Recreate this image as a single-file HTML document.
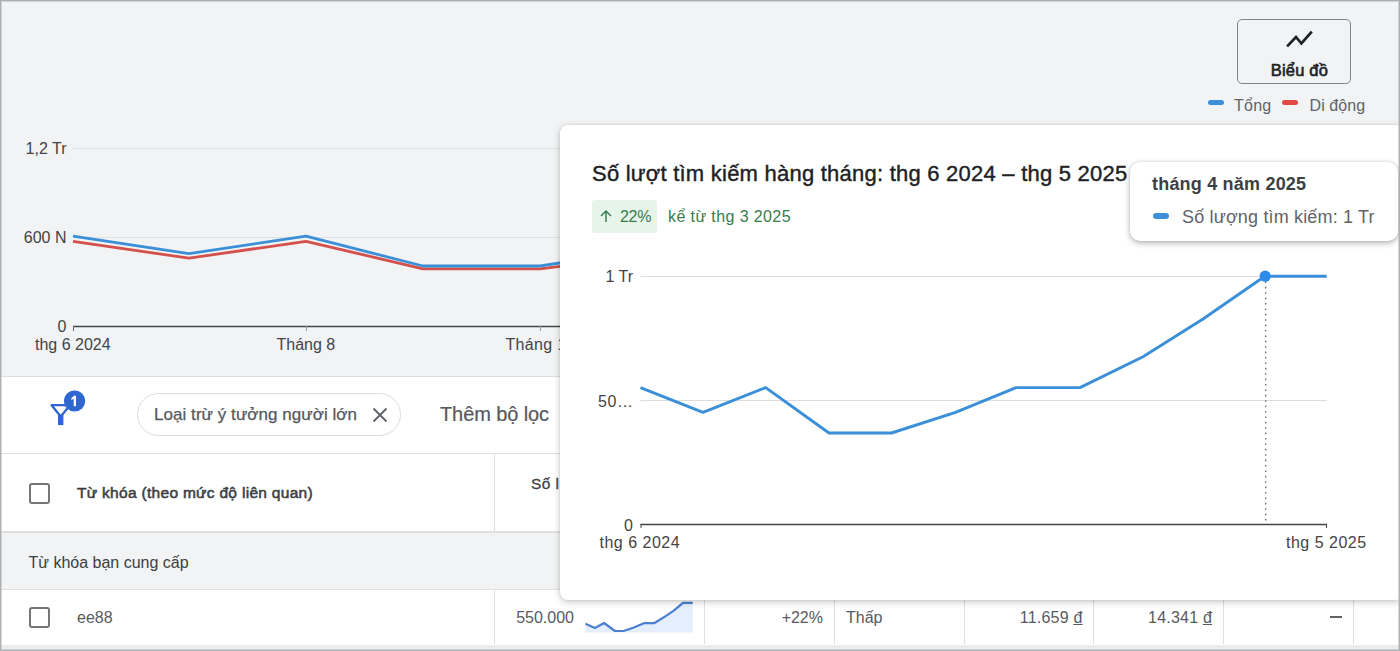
<!DOCTYPE html>
<html><head><meta charset="utf-8">
<style>
*{box-sizing:border-box;margin:0;padding:0}
html,body{width:1400px;height:651px;overflow:hidden;background:#f1f3f4;font-family:"Liberation Sans",sans-serif;}
#root{position:relative;width:1400px;height:651px;overflow:hidden;background:#f1f3f4}
.abs{position:absolute}
.t{position:absolute;white-space:nowrap;line-height:1}
</style></head><body>
<div id="root">

<!-- top chart area -->
<svg class="abs" style="left:0;top:0" width="1400" height="377" viewBox="0 0 1400 377">
  <line x1="73" y1="148.5" x2="1365" y2="148.5" stroke="#dfe1e3" stroke-width="1"/>
  <line x1="73" y1="237.5" x2="1365" y2="237.5" stroke="#dfe1e3" stroke-width="1"/>
  <line x1="73" y1="326.5" x2="1365" y2="326.5" stroke="#444" stroke-width="1.4"/>
  <line x1="73.5" y1="326" x2="73.5" y2="331" stroke="#666" stroke-width="1"/>
  <line x1="306.5" y1="326" x2="306.5" y2="331" stroke="#999" stroke-width="1"/>
  <line x1="540.5" y1="326" x2="540.5" y2="331" stroke="#999" stroke-width="1"/>
  <polyline fill="none" stroke="#d4504c" stroke-width="2.8" stroke-linejoin="round" points="73,241.3 189,258.2 306,241.3 423,268.8 540,268.8 657,254.4"/>
  <polyline fill="none" stroke="#3b8fd9" stroke-width="2.8" stroke-linejoin="round" points="73,236.2 189,253.6 306,236.2 423,266 540,266 657,248"/>
</svg>
<div class="t" style="right:1333.5px;top:141.3px;font-size:16px;color:#444">1,2 Tr</div>
<div class="t" style="right:1333.5px;top:230.3px;font-size:16px;color:#444">600 N</div>
<div class="t" style="right:1333.5px;top:319.3px;font-size:16px;color:#444">0</div>
<div class="t" style="left:35px;top:337px;font-size:16px;color:#444">thg 6 2024</div>
<div class="t" style="left:276.5px;top:337px;font-size:16px;color:#444">Tháng 8</div>
<div class="t" style="left:505.5px;top:337px;font-size:16px;letter-spacing:0.35px;color:#444">Tháng 10</div>

<!-- Bieu do button -->
<div class="abs" style="left:1236.6px;top:19px;width:114.6px;height:64.6px;border:1.5px solid #80868b;border-radius:5px;background:#f1f3f4"></div>
<svg class="abs" style="left:1284px;top:29px" width="32" height="22" viewBox="0 0 32 22"><polyline points="3.1,17.4 12,8 17.4,14.5 27.8,2.7" fill="none" stroke="#202124" stroke-width="2.7" stroke-linejoin="miter"/></svg>
<div class="t" style="left:1270.7px;top:62px;font-size:16.5px;letter-spacing:0.2px;color:#202124;-webkit-text-stroke:0.6px #202124">Biểu đồ</div>
<!-- legend -->
<div class="abs" style="left:1208px;top:100px;width:16px;height:5px;border-radius:3px;background:#3b8fd9"></div>
<div class="t" style="left:1234px;top:97.5px;font-size:16px;letter-spacing:0.25px;color:#5f6368">Tổng</div>
<div class="abs" style="left:1282px;top:100px;width:16px;height:5px;border-radius:3px;background:#e04a45"></div>
<div class="t" style="left:1309.5px;top:97.5px;font-size:16px;letter-spacing:0.1px;color:#5f6368">Di động</div>

<!-- filter bar -->
<div class="abs" style="left:0;top:376px;width:1400px;height:77.5px;background:#fff;border-top:1px solid #dadce0;border-bottom:1px solid #e0e0e0"></div>
<svg class="abs" style="left:46px;top:388px" width="44" height="44" viewBox="0 0 44 44">
  <path d="M5.6 17.2 H24 L14.7 28.4 Z" fill="none" stroke="#2f66d0" stroke-width="2.3" stroke-linejoin="round"/>
  <rect x="12" y="27" width="5.4" height="10.1" fill="#2f66d0"/>
  <circle cx="28.6" cy="13" r="10.6" fill="#2f66d0"/>
  <polygon points="25.4,10 28.1,7.8 30,7.8 30,18.2 27.7,18.2 27.7,10.7 25.4,12.1" fill="#fff"/>
</svg>
<div class="abs" style="left:137px;top:393px;width:264px;height:43px;border:1px solid #dadce0;border-radius:22px;background:#fff"></div>
<div class="t" style="left:154px;top:406px;font-size:17px;letter-spacing:0.05px;color:#55585d;-webkit-text-stroke:0.25px #55585d">Loại trừ ý tưởng người lớn</div>
<svg class="abs" style="left:371px;top:406px" width="18" height="18" viewBox="0 0 18 18"><path d="M2.5 2.5 L15.5 15.5 M15.5 2.5 L2.5 15.5" stroke="#5f6368" stroke-width="1.8" fill="none"/></svg>
<div class="t" style="left:440px;top:404.3px;font-size:20px;letter-spacing:-0.1px;color:#55585d;-webkit-text-stroke:0.2px #55585d">Thêm bộ lọc</div>

<!-- table header -->
<div class="abs" style="left:0;top:454px;width:1400px;height:79px;background:#fff;border-bottom:2px solid #e0e0e0"></div>
<div class="abs" style="left:28.5px;top:482.5px;width:21px;height:21px;border:2.5px solid #757575;border-radius:3px;background:#fff"></div>
<div class="t" style="left:77px;top:485px;font-size:15.5px;letter-spacing:0.3px;color:#3c4043;-webkit-text-stroke:0.55px #3c4043">Từ khóa (theo mức độ liên quan)</div>
<div class="abs" style="left:493.6px;top:454px;width:1px;height:78px;background:#e0e0e0"></div>
<div class="t" style="left:531px;top:476px;font-size:15.5px;letter-spacing:0.45px;color:#3c4043;-webkit-text-stroke:0.3px #3c4043">Số lượt</div>

<!-- group row -->
<div class="abs" style="left:0;top:534px;width:1400px;height:56px;background:#f1f3f4;border-bottom:1px solid #e0e0e0"></div>
<div class="t" style="left:28.5px;top:554.7px;font-size:16px;color:#3c4043">Từ khóa bạn cung cấp</div>

<!-- data row -->
<div class="abs" style="left:0;top:590px;width:1400px;height:54.5px;background:#fff"></div>
<div class="abs" style="left:28.5px;top:606.5px;width:21px;height:21px;border:2.5px solid #757575;border-radius:3px;background:#fff"></div>
<div class="t" style="left:77px;top:610px;font-size:16px;color:#575a5f">ee88</div>
<div class="abs" style="left:493.6px;top:590px;width:1px;height:54px;background:#e0e0e0"></div>
<div class="abs" style="left:704.3px;top:590px;width:1px;height:54px;background:#e0e0e0"></div>
<div class="abs" style="left:834.3px;top:590px;width:1px;height:54px;background:#e0e0e0"></div>
<div class="abs" style="left:963.8px;top:590px;width:1px;height:54px;background:#e0e0e0"></div>
<div class="abs" style="left:1093.2px;top:590px;width:1px;height:54px;background:#e0e0e0"></div>
<div class="abs" style="left:1223.4px;top:590px;width:1px;height:54px;background:#e0e0e0"></div>
<div class="abs" style="left:1353.2px;top:590px;width:1px;height:54px;background:#e0e0e0"></div>
<div class="t" style="right:826px;top:610px;font-size:16px;color:#575a5f">550.000</div>
<svg class="abs" style="left:570px;top:590px" width="140" height="54" viewBox="0 0 140 54">
  <polygon points="15.5,33.8 24.9,38.0 34.1,33.0 45.0,41.0 53.6,41.0 63.2,37.7 73.9,33.2 84.1,33.2 93.8,27.3 103.4,20.9 113.0,12.9 122.7,12.9 122.7,42.6 15.5,42.6" fill="#e4eefc"/>
  <polyline points="15.5,33.8 24.9,38.0 34.1,33.0 45.0,41.0 53.6,41.0 63.2,37.7 73.9,33.2 84.1,33.2 93.8,27.3 103.4,20.9 113.0,12.9 122.7,12.9" fill="none" stroke="#4a7fd1" stroke-width="2.2" stroke-linejoin="round"/>
</svg>
<div class="t" style="right:577px;top:610px;font-size:16px;color:#575a5f">+22%</div>
<div class="t" style="left:846px;top:610px;font-size:16px;color:#575a5f">Thấp</div>
<div class="t" style="right:317.5px;top:610px;font-size:16px;letter-spacing:0.2px;color:#575a5f">11.659 <u>đ</u></div>
<div class="t" style="right:188px;top:610px;font-size:16px;letter-spacing:0.2px;color:#575a5f">14.341 <u>đ</u></div>
<div class="abs" style="left:1330px;top:616.3px;width:11.5px;height:1.6px;background:#5f6368"></div>

<div class="abs" style="left:0;top:644.5px;width:1400px;height:7px;background:#e9ebec"></div>
<!-- popup -->
<div class="abs" style="left:559.5px;top:125px;width:840px;height:475.3px;background:#fff;border-radius:8px 0 4px 8px;box-shadow:0 2px 7px rgba(0,0,0,.22),0 0 2px rgba(0,0,0,.12)"></div>
<div class="t" style="left:592px;top:163px;font-size:22px;letter-spacing:0.235px;color:#202124;-webkit-text-stroke:0.4px #202124">Số lượt tìm kiếm hàng tháng: thg 6 2024 – thg 5 2025</div>
<div class="abs" style="left:592px;top:200px;width:65px;height:33px;background:#e6f4ea;border-radius:3px"></div>
<svg class="abs" style="left:598px;top:208px" width="16" height="16" viewBox="0 0 16 16"><path d="M8 14 V3 M3 8 L8 3 L13 8" fill="none" stroke="#357d4e" stroke-width="1.45"/></svg>
<div class="t" style="left:620px;top:209px;font-size:16px;letter-spacing:-0.3px;color:#357d4e">22%</div>
<div class="t" style="left:668px;top:209px;font-size:16px;letter-spacing:0.4px;color:#357d4e">kể từ thg 3 2025</div>

<svg class="abs" style="left:558px;top:125px" width="840" height="475" viewBox="558 125 840 475">
  <line x1="640.5" y1="276.5" x2="1327" y2="276.5" stroke="#dcdcdc" stroke-width="1"/>
  <line x1="640.5" y1="400.5" x2="1327" y2="400.5" stroke="#dcdcdc" stroke-width="1"/>
  <line x1="1265.7" y1="276" x2="1265.7" y2="524" stroke="#666" stroke-width="1.3" stroke-dasharray="1.6,3.8"/>
  <line x1="640.5" y1="524.5" x2="1327" y2="524.5" stroke="#444" stroke-width="1.4"/>
  <line x1="641" y1="524" x2="641" y2="528" stroke="#444" stroke-width="1"/>
  <line x1="1326.5" y1="524" x2="1326.5" y2="528" stroke="#444" stroke-width="1"/>
  <polyline fill="none" stroke="#3b8fd9" stroke-width="2.9" stroke-linejoin="round" points="640.5,387.6 703,412.4 765.7,387.6 829,433 891.5,433 955.5,412.4 1016,387.6 1080,387.6 1143,356.7 1203,319 1264.8,276.2 1326.7,276.2"/>
  <circle cx="1265.2" cy="276.2" r="5.6" fill="#2d8ae6"/>
</svg>
<div class="t" style="right:767px;top:269px;font-size:16px;color:#444">1 Tr</div>
<div class="t" style="right:766.5px;top:394px;font-size:16px;letter-spacing:0.6px;color:#444">50…</div>
<div class="t" style="right:767px;top:518px;font-size:16px;color:#444">0</div>
<div class="t" style="left:599.5px;top:535px;font-size:16px;letter-spacing:0.5px;color:#444">thg 6 2024</div>
<div class="t" style="left:1286px;top:535px;font-size:16px;letter-spacing:0.5px;color:#444">thg 5 2025</div>

<!-- tooltip -->
<div class="abs" style="left:1130px;top:162px;width:267.5px;height:79px;background:#fff;border-radius:10px;box-shadow:0 2px 6px rgba(0,0,0,.3),0 0 2px rgba(0,0,0,.12)"></div>
<div class="t" style="left:1152px;top:175px;font-size:18px;letter-spacing:0.2px;font-weight:bold;color:#3c4043">tháng 4 năm 2025</div>
<div class="abs" style="left:1153px;top:213px;width:16px;height:5.5px;border-radius:3px;background:#3b8fd9"></div>
<div class="t" style="left:1182px;top:208px;font-size:18px;letter-spacing:0.165px;color:#5f6368">Số lượng tìm kiếm: 1 Tr</div>

<!-- outer border -->
<div class="abs" style="left:0;top:0;width:1400px;height:651px;box-shadow:inset 0 0 0 1px #adafb1,inset 0 0 0 2px rgba(173,175,177,.45);pointer-events:none"></div>
</div>
</body></html>
